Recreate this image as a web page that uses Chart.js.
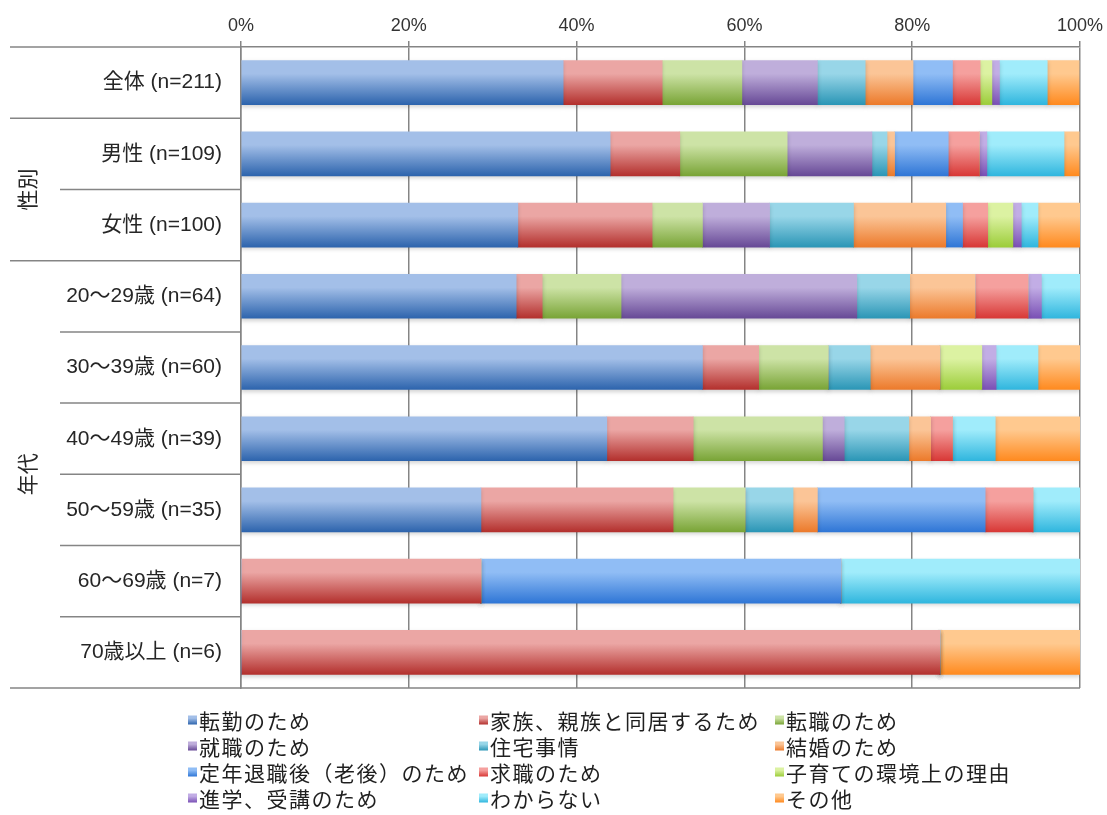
<!DOCTYPE html>
<html lang="ja">
<head>
<meta charset="utf-8">
<title>転居の理由</title>
<script src="https://cdn.jsdelivr.net/npm/chart.js@4.4.1/dist/chart.umd.min.js"></script>
<style>
  html, body { margin: 0; padding: 0; background: #ffffff; }
  #wrap { width: 1107px; height: 815px; position: relative; }
</style>
</head>
<body>
<div id="wrap"><canvas id="chart" width="1107" height="815"></canvas></div>
<script>
// Respondent groups (rows)
const categories = [
  '全体 (n=211)', '男性 (n=109)', '女性 (n=100)',
  '20～29歳 (n=64)', '30～39歳 (n=60)', '40～49歳 (n=39)',
  '50～59歳 (n=35)', '60～69歳 (n=7)', '70歳以上 (n=6)'
];

// Reasons (series), in stacking order
const reasons = [
  '転勤のため', '家族、親族と同居するため', '転職のため',
  '就職のため', '住宅事情', '結婚のため',
  '定年退職後（老後）のため', '求職のため', '子育ての環境上の理由',
  '進学、受講のため', 'わからない', 'その他'
];

// Share of each reason per row (%)
const tenkin      = [38.4, 44.0, 33.0, 32.8, 55.0, 43.6, 28.6,  0.0,  0.0];
const kazoku      = [11.8,  8.3, 16.0,  3.1,  6.7, 10.3, 22.9, 28.6, 83.3];
const tenshoku    = [ 9.5, 12.8,  6.0,  9.4,  8.3, 15.4,  8.6,  0.0,  0.0];
const shushoku    = [ 9.0, 10.1,  8.0, 28.1,  0.0,  2.6,  0.0,  0.0,  0.0];
const jutaku      = [ 5.7,  1.8, 10.0,  6.3,  5.0,  7.7,  5.7,  0.0,  0.0];
const kekkon      = [ 5.7,  0.9, 11.0,  7.8,  8.3,  2.6,  2.9,  0.0,  0.0];
const teinen      = [ 4.7,  6.4,  2.0,  0.0,  0.0,  0.0, 20.0, 42.9,  0.0];
const kyushoku    = [ 3.3,  3.7,  3.0,  6.3,  0.0,  2.6,  5.7,  0.0,  0.0];
const kosodate    = [ 1.4,  0.0,  3.0,  0.0,  5.0,  0.0,  0.0,  0.0,  0.0];
const shingaku    = [ 0.9,  0.9,  1.0,  1.6,  1.7,  0.0,  0.0,  0.0,  0.0];
const wakaranai   = [ 5.7,  9.2,  2.0,  4.7,  5.0,  5.1,  5.7, 28.6,  0.0];
const sonota      = [ 3.8,  1.8,  5.0,  0.0,  5.0, 10.2,  0.0,  0.0, 16.7];

const seriesValues = [tenkin, kazoku, tenshoku, shushoku, jutaku, kekkon,
                      teinen, kyushoku, kosodate, shingaku, wakaranai, sonota];

// Percent axis ticks
const tickValues = [0, 20, 40, 60, 80, 100];

// Gradient fills: [top, bottom]
const fills = [
  ['#a3bfe8', '#2d64ad'], ['#eba6a4', '#b3302d'], ['#cde3a6', '#79a436'],
  ['#bfaedb', '#674996'], ['#98d6e8', '#2b96b6'], ['#fbc597', '#ec7a2b'],
  ['#90bdf5', '#2f76d6'], ['#f5a09e', '#d83836'], ['#dcf2a2', '#9ccd3a'],
  ['#c2ade5', '#7a50b5'], ['#a0ecfb', '#30b6de'], ['#ffc98f', '#ff8a1f']
];

const FONT = '"Liberation Sans", "Noto Sans CJK JP", sans-serif';
const JP_FONT = '"Noto Sans CJK JP", "Liberation Sans", sans-serif';
const BAR_H = 44;
const LINE = '#858585';

function barGradient(ctx2d, i, top, h) {
  const g = ctx2d.createLinearGradient(0, top, 0, top + h);
  g.addColorStop(0, fills[i][0]);
  g.addColorStop(0.3, fills[i][0]);
  g.addColorStop(1, fills[i][1]);
  return g;
}

const datasets = seriesValues.map((vals, i) => ({
  label: reasons[i],
  data: vals,
  borderWidth: 0,
  barThickness: BAR_H,
  backgroundColor(c) {
    const fallback = fills[i][1];
    const y = c.chart.scales && c.chart.scales.y;
    if (!y || c.dataIndex === undefined) return fallback;
    const cy = y.getPixelForValue(c.dataIndex);
    if (!isFinite(cy)) return fallback;
    return barGradient(c.chart.ctx, i, cy - BAR_H / 2, BAR_H);
  }
}));

// Soft drop shadow under the bars
const barShadow = {
  id: 'barShadow',
  beforeDatasetsDraw(chart) {
    const ctx = chart.ctx;
    ctx.save();
    ctx.shadowColor = 'rgba(0,0,0,0.18)';
    ctx.shadowBlur = 4;
    ctx.shadowOffsetY = 2;
  },
  afterDatasetsDraw(chart) { chart.ctx.restore(); }
};

// Category separators, group captions and the legend block
const frame = {
  id: 'frame',
  afterDraw(chart) {
    const { ctx, chartArea: a, scales: { y } } = chart;
    const step = y.getPixelForValue(1) - y.getPixelForValue(0);
    ctx.save();
    ctx.strokeStyle = LINE;
    ctx.lineWidth = 1.5;
    const hline = (x0, x1, yy) => {
      ctx.beginPath(); ctx.moveTo(x0, yy); ctx.lineTo(x1, yy); ctx.stroke();
    };
    hline(10, a.left, a.top);
    hline(10, a.right, a.bottom);
    for (let i = 0; i < categories.length - 1; i++) {
      const yy = y.getPixelForValue(i) + step / 2;
      const x0 = (i === 0 || i === 2) ? 10 : 60;
      hline(x0, a.left, yy);
    }

    // Group captions, rotated
    ctx.fillStyle = '#262626';
    ctx.font = `21px ${JP_FONT}`;
    ctx.textAlign = 'center';
    ctx.textBaseline = 'middle';
    const groups = [['性別', 1, 2], ['年代', 3, 8]];
    groups.forEach(([txt, s, e]) => {
      const cy = (y.getPixelForValue(s) + y.getPixelForValue(e)) / 2;
      ctx.save();
      ctx.translate(27, cy);
      ctx.rotate(-Math.PI / 2);
      ctx.fillText(txt, 0, 0);
      ctx.restore();
    });

    // Legend: 3 columns x 4 rows
    const colX = [188, 479, 775];
    const rowY = [720, 746, 772, 798];
    ctx.font = `21px ${JP_FONT}`;
    ctx.letterSpacing = '1.5px';
    ctx.textAlign = 'left';
    ctx.textBaseline = 'middle';
    reasons.forEach((name, i) => {
      const x = colX[i % 3], yy = rowY[Math.floor(i / 3)];
      ctx.fillStyle = barGradient(ctx, i, yy - 4.5, 9);
      ctx.fillRect(x, yy - 4.5, 9, 9);
      ctx.fillStyle = '#1f1f1f';
      ctx.fillText(name, x + 11, yy + 1);
    });
    ctx.restore();
  }
};

new Chart(document.getElementById('chart'), {
  type: 'bar',
  data: { labels: categories, datasets },
  options: {
    indexAxis: 'y',
    responsive: false,
    animation: false,
    layout: { padding: { left: 0, right: 22, top: 0, bottom: 127 } },
    plugins: { legend: { display: false }, tooltip: { enabled: false } },
    scales: {
      x: {
        position: 'top',
        stacked: true,
        min: 0,
        max: 100,
        afterBuildTicks(scale) { scale.ticks = tickValues.map(v => ({ value: v })); },
        afterFit(scale) { scale.height = 47; },
        ticks: {
          callback: v => v + '%',
          color: '#333333',
          padding: 4,
          maxRotation: 0,
          font: { family: FONT, size: 18 }
        },
        grid: { color: LINE, lineWidth: 1.5, tickLength: 6, drawTicks: true },
        border: { display: true, color: LINE, width: 1.5 }
      },
      y: {
        stacked: true,
        afterFit(scale) { scale.width = 241; },
        ticks: {
          color: '#262626',
          padding: 19,
          font: { family: FONT, size: 21 }
        },
        grid: { display: false, drawTicks: false },
        border: { display: true, color: LINE, width: 1.5 }
      }
    }
  },
  plugins: [barShadow, frame]
});
</script>
</body>
</html>
